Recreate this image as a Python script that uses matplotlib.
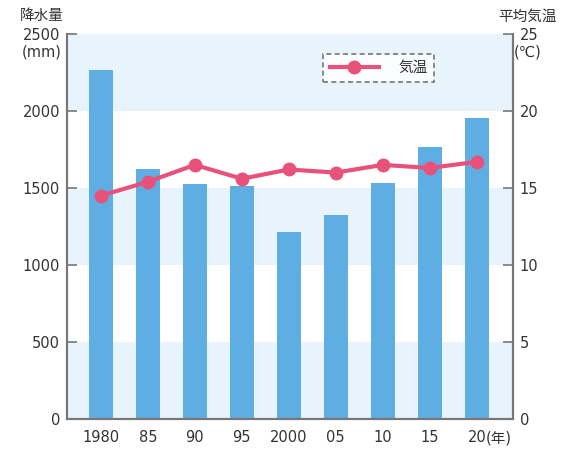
import numpy as np
import matplotlib.pyplot as plt
from matplotlib.transforms import ScaledTranslation

plt.rcParams['font.family'] = ['DejaVu Sans', 'Noto Sans CJK JP']

years = ["1980", "85", "90", "95", "2000", "05", "10", "15", "20"]
rain = [2265, 1623, 1526, 1513, 1214, 1325, 1532, 1766, 1955]
temp = [14.5, 15.4, 16.5, 15.6, 16.2, 16.0, 16.5, 16.3, 16.7]

bar_c = "#5faee3"
line_c = "#e8527a"
band_c = "#e8f4fc"
axis_c = "#777777"
text_c = "#333333"
fs = 10.5

fig = plt.figure(figsize=(5.83, 4.53), dpi=100)
ax = fig.add_axes([0.1149, 0.0751, 0.7650, 0.8499])
ax2 = ax.twinx()

x = np.arange(len(years))
for lo in (0, 1000, 2000):
    ax.axhspan(lo, lo + 500, color=band_c, lw=0, zorder=0)
ax.bar(x, rain, width=0.51, color=bar_c, zorder=2)

ax.set_xlim(-0.72, 8.77)
ax.set_ylim(0, 2500)
ax.set_yticks(range(0, 2501, 500))
ax.set_xticks(x)
ax.set_xticklabels(years)
ax.tick_params(axis='x', length=0, pad=8, labelsize=fs, colors=text_c)
ax.tick_params(axis='y', direction='in', length=7, width=1.2, color=axis_c,
               labelsize=fs, labelcolor=text_c, pad=5)

ax2.plot(x, temp, color=line_c, lw=3, marker='o', ms=9, zorder=3, clip_on=False)
ax2.set_ylim(0, 25)
ax2.set_yticks(range(0, 26, 5))
ax2.tick_params(axis='y', direction='in', length=7, width=1.2, color=axis_c,
                labelsize=fs, labelcolor=text_c, pad=5)

for a in (ax, ax2):
    a.spines['top'].set_visible(False)
    for s in ('left', 'right', 'bottom'):
        a.spines[s].set_color(axis_c)
        a.spines[s].set_linewidth(1.5)

fig.text(0.072, 0.965, "降水量", ha='center', va='center', fontsize=fs, color=text_c)
fig.text(0.072, 0.885, "(mm)", ha='center', va='center', fontsize=fs, color=text_c)
fig.text(0.905, 0.965, "平均気温", ha='center', va='center', fontsize=fs, color=text_c)
fig.text(0.905, 0.885, "(℃)", ha='center', va='center', fontsize=fs, color=text_c)

# "(年)" right after the last tick label, on the same line
off = ScaledTranslation(0, -8 / 72, fig.dpi_scale_trans)
ax.text(8.2, 0, "(年)", transform=ax.get_xaxis_transform() + off,
        ha='left', va='top', fontsize=fs, color=text_c)

leg = ax2.legend(["気温"], loc='upper left', bbox_to_anchor=(0.574, 0.949),
                 frameon=True, fancybox=False, fontsize=fs, handlelength=3.4,
                 handletextpad=1.3, borderpad=0.45, borderaxespad=0,
                 labelcolor=text_c)
frame = leg.get_frame()
frame.set_edgecolor("#555555")
frame.set_linestyle((0, (3, 2)))
frame.set_linewidth(1.2)

fig.savefig("out.png", dpi=100)
